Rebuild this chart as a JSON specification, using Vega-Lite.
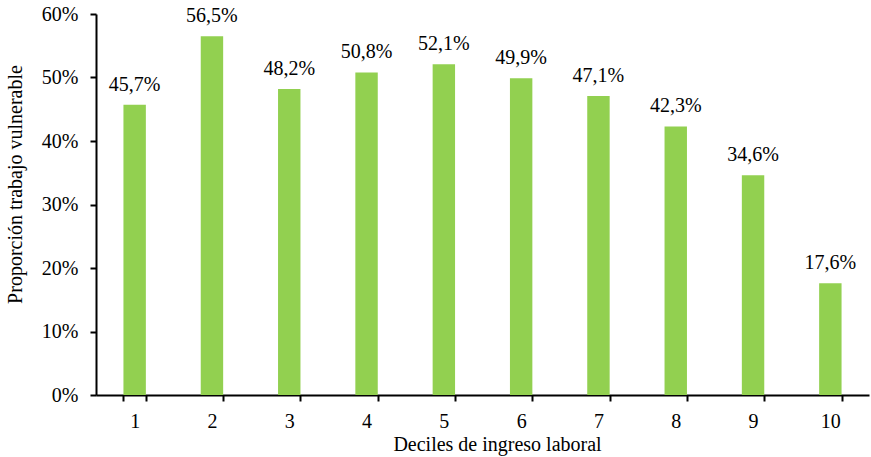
{
  "$schema": "https://vega.github.io/schema/vega-lite/v6.json",
  "width": 773,
  "height": 381,
  "autosize": "none",
  "padding": {"left": 96, "top": 14, "right": 2, "bottom": 62},
  "background": "white",
  "data": {"values": [
    {"decil": "1", "v": 0.457},
    {"decil": "2", "v": 0.565},
    {"decil": "3", "v": 0.482},
    {"decil": "4", "v": 0.508},
    {"decil": "5", "v": 0.521},
    {"decil": "6", "v": 0.499},
    {"decil": "7", "v": 0.471},
    {"decil": "8", "v": 0.423},
    {"decil": "9", "v": 0.346},
    {"decil": "10", "v": 0.176}
  ]},
  "config": {
    "locale": {"number": {"decimal": ",", "thousands": ".", "grouping": [3], "currency": ["", " €"], "percent": "%"}},
    "view": {"stroke": null},
    "font": "Liberation Serif",
    "axis": {
      "labelFont": "Liberation Serif",
      "titleFont": "Liberation Serif",
      "labelFontSize": 20,
      "titleFontSize": 20,
      "titleFontWeight": "normal",
      "labelColor": "#000",
      "titleColor": "#000",
      "domainColor": "#000",
      "tickColor": "#000",
      "domainWidth": 2,
      "tickWidth": 2,
      "grid": false
    }
  },
  "encoding": {
    "x": {
      "field": "decil", "type": "ordinal", "sort": null,
      "scale": {"paddingInner": 0.71, "paddingOuter": 0.355},
      "axis": {"title": "Deciles de ingreso laboral", "labelAngle": 0, "tickBand": "extent", "tickSize": 6, "labelPadding": 10, "titlePadding": 3, "titleX": 401}
    },
    "y": {
      "field": "v", "type": "quantitative",
      "scale": {"domain": [0, 0.6], "nice": false},
      "axis": {"title": "Proporción trabajo vulnerable", "format": ".0%", "values": [0, 0.1, 0.2, 0.3, 0.4, 0.5, 0.6], "tickSize": 6, "labelPadding": 12, "titlePadding": 16, "titleY": 170}
    }
  },
  "layer": [
    {"mark": {"type": "bar", "color": "#92D050"}},
    {
      "mark": {"type": "text", "baseline": "alphabetic", "dy": -14, "fontSize": 20, "font": "Liberation Serif", "color": "#000"},
      "encoding": {"text": {"field": "v", "type": "quantitative", "format": ".1%"}}
    }
  ]
}
